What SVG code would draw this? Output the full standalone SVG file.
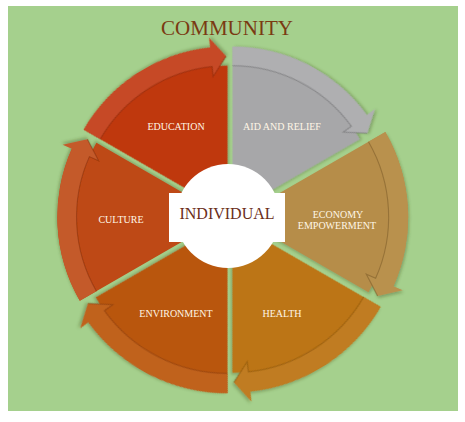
<svg xmlns="http://www.w3.org/2000/svg" xmlns:xlink="http://www.w3.org/1999/xlink" width="465" height="422" viewBox="0 0 465 422">
  <defs>
    <filter id="sh" x="-20%" y="-20%" width="140%" height="140%">
      <feDropShadow dx="1" dy="2" stdDeviation="1.5" flood-color="#3a4a20" flood-opacity="0.35"/>
    </filter>
    <path id="body" d="M0,0 L143.76,-83 A166,166 0 0 1 151.64,67.52 L134.28,59.79 A147,147 0 0 1 127.30,73.5 Z"/>
    <path id="band" d="M143.76,-83 A166,166 0 0 1 151.64,67.52 L160.78,71.58 L136.22,77.06 L125.15,55.72 L134.28,59.79 A147,147 0 0 0 127.30,-73.5 Z"/>
    <path id="line" d="M127.30,-73.5 A147,147 0 0 1 134.28,59.79 L125.15,55.72 L136.22,77.06" fill="none" stroke-width="1.1" stroke-opacity="0.45"/>
  </defs>
  <style>
    .lbl { font-family: "Liberation Serif", "DejaVu Serif", serif; font-size: 10px; fill: #fff6e6; text-anchor: middle; }
  </style>
  <rect x="0" y="0" width="465" height="422" fill="#ffffff"/>
  <rect x="8" y="6" width="450" height="405" fill="#a5d08d"/>
  <text x="227" y="35" font-family="Liberation Serif, DejaVu Serif, serif" font-size="21" fill="#7a3a12" text-anchor="middle">COMMUNITY</text>

  <g id="education">
    <g transform="translate(230,217) rotate(-120) translate(5,0) scale(1.0)" filter="url(#sh)">
      <use xlink:href="#body" fill="#bf390d"/>
      <use xlink:href="#band" fill="#c64a26"/>
      <use xlink:href="#line" stroke="#7a2004"/>
    </g>
    <text class="lbl" x="176" y="130">EDUCATION</text>
  </g>

  <g id="aid">
    <g transform="translate(230,217) rotate(-60) translate(5,0) scale(1.0)" filter="url(#sh)">
      <use xlink:href="#body" fill="#a7a7a9"/>
      <use xlink:href="#band" fill="#afafb1"/>
      <use xlink:href="#line" stroke="#5e5e60"/>
    </g>
    <text class="lbl" x="282" y="130">AID AND RELIEF</text>
  </g>

  <g id="economy">
    <g transform="translate(230,217) rotate(0) translate(8,0) scale(1.025)" filter="url(#sh)">
      <use xlink:href="#body" fill="#b68d4a"/>
      <use xlink:href="#band" fill="#b9914e"/>
      <use xlink:href="#line" stroke="#6e5020"/>
    </g>
    <text class="lbl" x="338" y="218">ECONOMY</text>
    <text class="lbl" x="337" y="229">EMPOWERMENT</text>
  </g>

  <g id="health">
    <g transform="translate(230,217) rotate(60) translate(5,0) scale(1.03)" filter="url(#sh)">
      <use xlink:href="#body" fill="#bc7514"/>
      <use xlink:href="#band" fill="#c07c20"/>
      <use xlink:href="#line" stroke="#7a4a08"/>
    </g>
    <text class="lbl" x="282" y="317">HEALTH</text>
  </g>

  <g id="environment">
    <g transform="translate(230,217) rotate(120) translate(5,0) scale(1.035)" filter="url(#sh)">
      <use xlink:href="#body" fill="#b9560f"/>
      <use xlink:href="#band" fill="#c0621e"/>
      <use xlink:href="#line" stroke="#7a3206"/>
    </g>
    <text class="lbl" x="176" y="317">ENVIRONMENT</text>
  </g>

  <g id="culture">
    <g transform="translate(230,217) rotate(180) translate(5,0) scale(1.01)" filter="url(#sh)">
      <use xlink:href="#body" fill="#be4814"/>
      <use xlink:href="#band" fill="#c45a2c"/>
      <use xlink:href="#line" stroke="#7a2a06"/>
    </g>
    <text class="lbl" x="121" y="223">CULTURE</text>
  </g>

  <g id="individual">
    <circle cx="228" cy="216" r="52" fill="#ffffff"/>
    <rect x="169" y="193" width="116" height="49" fill="#ffffff"/>
    <text x="227" y="219" font-family="Liberation Serif, DejaVu Serif, serif" font-size="16" fill="#6b2e1a" text-anchor="middle">INDIVIDUAL</text>
  </g>
</svg>
